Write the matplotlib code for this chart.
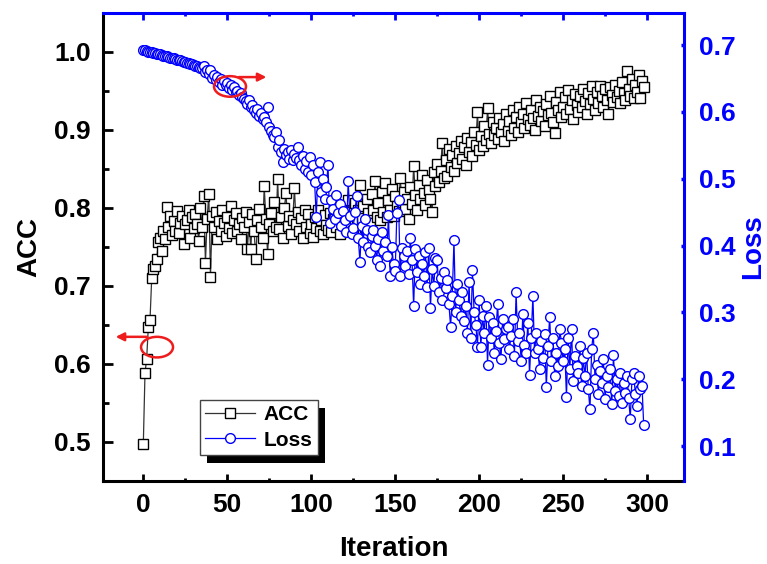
#!/usr/bin/env python3
"""Accuracy and loss versus training iteration (dual y axis)."""
from __future__ import annotations

import matplotlib

matplotlib.use("Agg")
import matplotlib.pyplot as plt
from matplotlib.patches import Ellipse, FancyArrowPatch, Rectangle
from matplotlib.ticker import MultipleLocator
from matplotlib.transforms import IdentityTransform

ACC = [
    0.497, 0.588, 0.607, 0.648, 0.657, 0.710, 0.722, 0.726, 0.735, 0.756,
    0.762, 0.745, 0.770, 0.760, 0.801, 0.776, 0.790, 0.765, 0.783, 0.771,
    0.796, 0.768, 0.781, 0.790, 0.754, 0.779, 0.785, 0.797, 0.762, 0.788,
    0.774, 0.792, 0.780, 0.758, 0.800, 0.776, 0.815, 0.729, 0.786, 0.818,
    0.712, 0.790, 0.776, 0.795, 0.760, 0.783, 0.770, 0.798, 0.781, 0.764,
    0.789, 0.774, 0.802, 0.768, 0.785, 0.793, 0.771, 0.779, 0.760, 0.787,
    0.775, 0.795, 0.748, 0.782, 0.747, 0.792, 0.770, 0.735, 0.784, 0.799,
    0.776, 0.762, 0.828, 0.786, 0.741, 0.780, 0.793, 0.770, 0.808, 0.775,
    0.837, 0.773, 0.788, 0.762, 0.800, 0.819, 0.777, 0.790, 0.766, 0.784,
    0.826, 0.779, 0.795, 0.770, 0.787, 0.761, 0.798, 0.776, 0.792, 0.768,
    0.780, 0.763, 0.789, 0.774, 0.797, 0.770, 0.785, 0.766, 0.791, 0.778,
    0.772, 0.794, 0.769, 0.786, 0.800, 0.775, 0.790, 0.767, 0.803, 0.781,
    0.788, 0.774, 0.810, 0.779, 0.795, 0.771, 0.806, 0.784, 0.798, 0.830,
    0.787, 0.802, 0.776, 0.812, 0.793, 0.781, 0.818, 0.797, 0.835, 0.789,
    0.806, 0.784, 0.820, 0.795, 0.832, 0.788, 0.810, 0.798, 0.824, 0.790,
    0.815, 0.803, 0.796, 0.838, 0.808, 0.821, 0.799, 0.812, 0.786, 0.827,
    0.805, 0.854, 0.816, 0.797, 0.830, 0.811, 0.842, 0.819, 0.804, 0.836,
    0.823, 0.812, 0.795, 0.846, 0.828, 0.857, 0.833, 0.848, 0.883, 0.839,
    0.862, 0.841, 0.875, 0.852, 0.868, 0.847, 0.880, 0.858, 0.871, 0.886,
    0.863, 0.878, 0.855, 0.890, 0.872, 0.884, 0.866, 0.898, 0.881, 0.923,
    0.874, 0.892, 0.879, 0.905, 0.887, 0.928, 0.895, 0.883, 0.910, 0.893,
    0.902, 0.888, 0.915, 0.897, 0.908, 0.886, 0.920, 0.899, 0.912, 0.894,
    0.925, 0.903, 0.916, 0.898, 0.930, 0.910, 0.921, 0.902, 0.935, 0.914,
    0.907, 0.926, 0.915, 0.900, 0.938, 0.918, 0.929, 0.911, 0.924, 0.905,
    0.933, 0.919, 0.944, 0.922, 0.910, 0.896, 0.936, 0.925, 0.949, 0.917,
    0.930, 0.942, 0.920, 0.951, 0.927, 0.939, 0.914, 0.946, 0.932, 0.923,
    0.944, 0.929, 0.953, 0.937, 0.921, 0.948, 0.933, 0.956, 0.940, 0.926,
    0.949, 0.935, 0.957, 0.943, 0.930, 0.952, 0.938, 0.921, 0.955, 0.945,
    0.936, 0.958, 0.942, 0.950, 0.935, 0.961, 0.947, 0.939, 0.976, 0.952,
    0.944, 0.965, 0.941, 0.958, 0.949, 0.970, 0.941, 0.963, 0.955,
]

LOSS = [
    0.693, 0.692, 0.691, 0.690, 0.690, 0.689, 0.688, 0.688, 0.687, 0.686,
    0.686, 0.685, 0.684, 0.683, 0.683, 0.682, 0.681, 0.680, 0.680, 0.679,
    0.678, 0.677, 0.677, 0.676, 0.675, 0.674, 0.673, 0.673, 0.672, 0.671,
    0.670, 0.669, 0.668, 0.667, 0.666, 0.665, 0.668, 0.660, 0.663, 0.657,
    0.662, 0.650, 0.655, 0.648, 0.652, 0.645, 0.649, 0.641, 0.646, 0.640,
    0.643, 0.636, 0.640, 0.633, 0.637, 0.630, 0.632, 0.626, 0.628, 0.622,
    0.620, 0.616, 0.612, 0.618, 0.607, 0.610, 0.603, 0.598, 0.604, 0.594,
    0.598, 0.590, 0.593, 0.585, 0.607, 0.578, 0.572, 0.566, 0.562, 0.570,
    0.548, 0.558, 0.540, 0.525, 0.545, 0.536, 0.540, 0.530, 0.543, 0.528,
    0.537, 0.531, 0.548, 0.528, 0.520, 0.534, 0.515, 0.526, 0.510, 0.533,
    0.505, 0.520, 0.495, 0.443, 0.510, 0.525, 0.480, 0.500, 0.470, 0.487,
    0.520, 0.434, 0.468, 0.455, 0.440, 0.475, 0.449, 0.462, 0.430, 0.452,
    0.439, 0.420, 0.496, 0.445, 0.418, 0.427, 0.450, 0.474, 0.412, 0.376,
    0.430, 0.405, 0.440, 0.424, 0.398, 0.390, 0.415, 0.424, 0.400, 0.379,
    0.410, 0.369, 0.420, 0.392, 0.405, 0.385, 0.446, 0.354, 0.398, 0.372,
    0.362, 0.449, 0.469, 0.354, 0.397, 0.385, 0.370, 0.392, 0.358, 0.412,
    0.378, 0.309, 0.395, 0.360, 0.385, 0.342, 0.372, 0.355, 0.390, 0.338,
    0.397, 0.307, 0.365, 0.340, 0.382, 0.379, 0.330, 0.352, 0.318, 0.360,
    0.336, 0.348, 0.312, 0.279, 0.325, 0.408, 0.300, 0.342, 0.318, 0.295,
    0.330, 0.288, 0.310, 0.270, 0.345, 0.262, 0.364, 0.300, 0.282, 0.249,
    0.318, 0.248, 0.295, 0.270, 0.310, 0.222, 0.294, 0.262, 0.285, 0.240,
    0.272, 0.313, 0.255, 0.230, 0.290, 0.260, 0.275, 0.279, 0.245, 0.265,
    0.290, 0.235, 0.330, 0.258, 0.270, 0.228, 0.298, 0.252, 0.240, 0.285,
    0.207, 0.262, 0.325, 0.240, 0.270, 0.245, 0.215, 0.258, 0.232, 0.268,
    0.188, 0.250, 0.294, 0.228, 0.262, 0.205, 0.240, 0.220, 0.275, 0.255,
    0.228, 0.245, 0.173, 0.262, 0.215, 0.275, 0.198, 0.235, 0.220, 0.210,
    0.250, 0.190, 0.232, 0.205, 0.240, 0.185, 0.155, 0.246, 0.269, 0.200,
    0.222, 0.178, 0.212, 0.195, 0.230, 0.170, 0.205, 0.188, 0.215, 0.163,
    0.236, 0.182, 0.200, 0.175, 0.210, 0.165, 0.195, 0.180, 0.205, 0.172,
    0.141, 0.200, 0.210, 0.178, 0.160, 0.205, 0.185, 0.190, 0.131,
]

ITERATIONS = list(range(len(ACC)))

X_TICKS = [0, 50, 100, 150, 200, 250, 300]
ACC_TICKS = [0.5, 0.6, 0.7, 0.8, 0.9, 1.0]
LOSS_TICKS = [0.1, 0.2, 0.3, 0.4, 0.5, 0.6, 0.7]

BLUE = "#0000FF"
RED = "#EE1C1C"


def style_axes(ax, ax2):
    for side in ("top", "right"):
        ax.spines[side].set_visible(False)
    for side in ("left", "bottom"):
        ax.spines[side].set_linewidth(2.2)
        ax.spines[side].set_color("black")
        ax2.spines[side].set_visible(False)
    for side in ("top", "right"):
        ax2.spines[side].set_linewidth(2.2)
        ax2.spines[side].set_color(BLUE)

    ax.set_xlim(-24, 322)
    ax.set_ylim(0.45, 1.05)
    ax2.set_ylim(0.048, 0.748)
    ax.set_xticks(X_TICKS)
    ax.xaxis.set_minor_locator(MultipleLocator(25))
    ax.set_yticks(ACC_TICKS)
    ax.set_yticklabels([f"{v:.1f}" for v in ACC_TICKS])
    ax.yaxis.set_minor_locator(MultipleLocator(0.05))
    ax2.set_yticks(LOSS_TICKS)
    ax2.set_yticklabels([f"{v:.1f}" for v in LOSS_TICKS])

    ax.tick_params(axis="x", which="major", direction="in", length=5, width=2.0,
                   top=False, labelsize=19, pad=9)
    ax.tick_params(axis="x", which="minor", direction="in", length=2.5, width=2.0, top=False)
    ax.tick_params(axis="y", which="major", direction="in", length=7, width=2.0,
                   labelsize=19, pad=9)
    ax.tick_params(axis="y", which="minor", direction="in", length=4, width=2.0)

    # blue ticks along the top come from the twin axes
    ax2.xaxis.set_visible(True)
    ax2.tick_params(axis="x", which="both", top=True, bottom=False,
                    labeltop=False, labelbottom=False, direction="in", color=BLUE, width=2.0)
    ax2.tick_params(axis="x", which="major", length=5)
    ax2.tick_params(axis="x", which="minor", length=2.5)
    ax2.tick_params(axis="y", which="major", direction="in", length=2.5, width=2.5,
                    color=BLUE, labelcolor=BLUE, labelsize=19, pad=11)
    ax2.tick_params(axis="y", which="minor", right=False)

    ax.set_xlabel("Iteration", fontsize=20, fontweight="bold", labelpad=13)
    ax.set_ylabel("ACC", fontsize=20, fontweight="bold", labelpad=8)
    ax2.set_ylabel("Loss", fontsize=20, fontweight="bold", color=BLUE, labelpad=3)


def add_marks(ax2):
    # red circles + arrows tell which axis each curve belongs to
    for (cx, cy), (x0, x1, ya) in [((0.093, 0.286), (0.081, 0.017, 0.308)),
                                   ((0.2186, 0.843), (0.229, 0.286, 0.863))]:
        ax2.add_patch(Ellipse((cx, cy), 0.055, 0.044, transform=ax2.transAxes, fill=False,
                              edgecolor=RED, linewidth=1.8, zorder=6, clip_on=False))
        ax2.add_patch(FancyArrowPatch((x0, ya), (x1, ya), transform=ax2.transAxes,
                                      arrowstyle="-|>", mutation_scale=12, linewidth=1.8,
                                      color=RED, zorder=6, clip_on=False))


def main() -> None:
    plt.rcParams.update(
        {
            "font.family": ["Liberation Sans", "DejaVu Sans"],
            "font.weight": "bold",
            "savefig.facecolor": "white",
        }
    )
    fig = plt.figure(figsize=(7.67, 5.64), dpi=100)
    ax = fig.add_axes([0.1343, 0.1472, 0.7575, 0.8298])
    ax2 = ax.twinx()

    acc_line, = ax.plot(ITERATIONS, ACC, color="#333333", linewidth=0.9, marker="s",
                        markersize=6.5, markerfacecolor="white", markeredgecolor="black",
                        markeredgewidth=1.0, label="ACC")
    loss_line, = ax2.plot(ITERATIONS, LOSS, color=BLUE, linewidth=0.9, marker="o",
                          markersize=7, markerfacecolor="white", markeredgecolor=BLUE,
                          markeredgewidth=1.0, label="Loss")
    style_axes(ax, ax2)
    add_marks(ax2)

    leg = ax2.legend([acc_line, loss_line], ["ACC", "Loss"], loc="lower left",
                     bbox_to_anchor=(0.167, 0.0556), borderaxespad=0, fancybox=False,
                     frameon=True, edgecolor="#444444", framealpha=1,
                     prop={"size": 15, "weight": "bold"}, handlelength=2.4,
                     handletextpad=0.4, borderpad=0.25, labelspacing=0.3)
    leg.get_frame().set_linewidth(1.0)
    leg.set_zorder(7)

    # hard black drop shadow like the original legend box
    fig.canvas.draw()
    bb = leg.get_window_extent()
    fig.add_artist(Rectangle((bb.x0 + 7, bb.y0 - 8), bb.width, bb.height,
                             transform=IdentityTransform(), facecolor="black",
                             edgecolor="none", zorder=-1))
    ax.patch.set_visible(False)

    fig.savefig("out.png", dpi=100)
    plt.close(fig)


if __name__ == "__main__":
    main()
